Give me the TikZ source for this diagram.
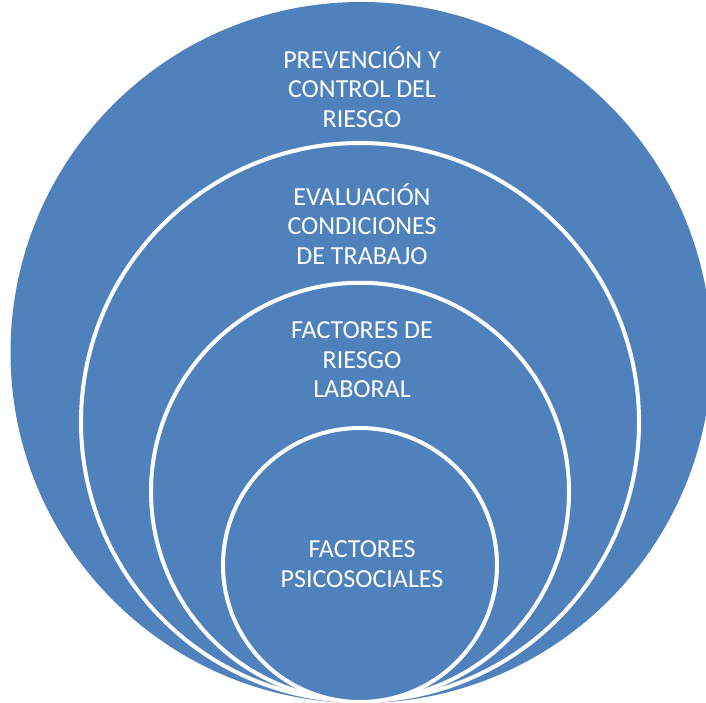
\documentclass[tikz,border=0pt]{standalone}
\usepackage{fontspec}
\setmainfont{Carlito}
\definecolor{ringblue}{HTML}{4F81BD}
\tikzset{
  ring/.style={circle, fill=ringblue, draw=white, line width=4pt, inner sep=0pt, outer sep=0pt},
  label/.style={text=white, align=center, font=\fontsize{26}{29.5}\selectfont, inner sep=0pt}
}
\begin{document}
\begin{tikzpicture}[x=1pt,y=-1pt]
\useasboundingbox (0,0) rectangle (706,703);
\clip (0,0) rectangle (706,703);
\node[ring, draw=none, minimum size=701pt] (c1) at (361,352.5) {};
\node[ring, minimum size=558pt] (c2) at (360,422) {};
\node[ring, minimum size=418pt] (c3) at (360,491.75) {};
\node[ring, minimum size=274pt] (c4) at (360,565) {};
\node[label] (t1) at (362,87) {PREVENCIÓN Y\\CONTROL DEL\\RIESGO};
\node[label] (t2) at (362,224) {EVALUACIÓN\\CONDICIONES\\DE TRABAJO};
\node[label] (t3) at (362,360) {FACTORES DE\\RIESGO\\LABORAL};
\node[label] (t4) at (362,564) {FACTORES\\PSICOSOCIALES};
\end{tikzpicture}
\end{document}
